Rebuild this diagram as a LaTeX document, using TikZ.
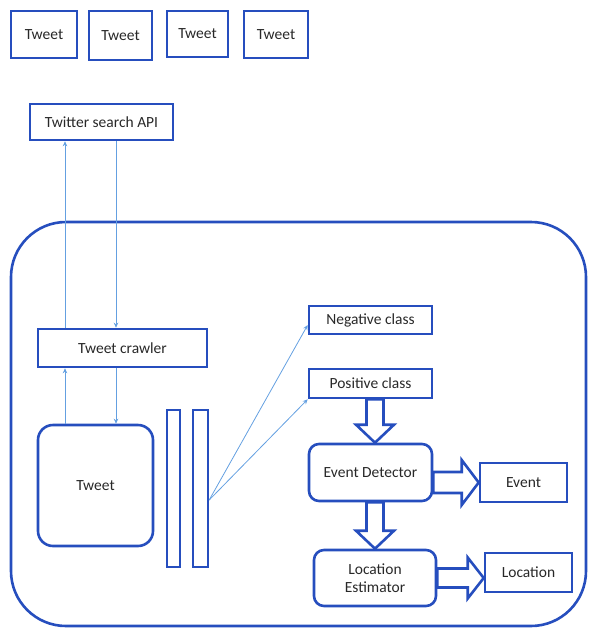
\documentclass[tikz,border=0pt]{standalone}
\usepackage{fontspec}
\setmainfont{Carlito}
\usetikzlibrary{arrows.meta}
\definecolor{boxblue}{RGB}{38,78,190}
\definecolor{lineblue}{RGB}{100,160,225}
\definecolor{txt}{RGB}{40,40,40}

\begin{document}
\begin{tikzpicture}[x=1pt,y=-1pt,
  box/.style={draw=boxblue,line width=2.6pt,inner sep=0pt,text=txt,
    font=\fontsize{15.5}{17.5}\selectfont,align=center},
  rbox/.style={box,rounded corners=10pt},
  bar/.style={draw=boxblue,line width=2.4pt,inner sep=0pt},
  thin/.style={lineblue,line width=0.8pt,-{Stealth[length=5pt,width=4.5pt]}},
  fat/.style={draw=boxblue,line width=2.6pt,fill=white}]
\useasboundingbox (0,0) rectangle (590,630);
\draw[boxblue,line width=2.6pt,rounded corners=55pt](11,222) rectangle (586,626);
\node[box,minimum width=66,minimum height=47](tw1) at (44,34.5){Tweet};
\node[box,minimum width=63,minimum height=49](tw2) at (120.5,35.5){Tweet};
\node[box,minimum width=61,minimum height=46](tw3) at (197.5,34){Tweet};
\node[box,minimum width=64,minimum height=47](tw4) at (276,34.5){Tweet};
\node[box,minimum width=143,minimum height=36](api) at (101.5,122){Twitter search API};
\node[box,minimum width=169,minimum height=38](crawl) at (122.5,348){Tweet crawler};
\node[box,rounded corners=15pt,minimum width=115,minimum height=121](tweet) at (95.5,485.5){Tweet};
\node[bar,minimum width=13,minimum height=157](barone) at (173.5,488.5){};
\node[bar,minimum width=15,minimum height=157](bartwo) at (200.5,488.5){};
\node[box,minimum width=123,minimum height=28](neg) at (370.5,320){Negative class};
\node[box,minimum width=123,minimum height=29](pos) at (370.5,383.5){Positive class};
\node[rbox,minimum width=123,minimum height=57](det) at (370.5,472.5){Event Detector};
\node[box,minimum width=87,minimum height=39](ev) at (523.5,482.5){Event};
\node[rbox,minimum width=122,minimum height=56](est) at (375,578){Location\\Estimator};
\node[box,minimum width=87,minimum height=39](loc) at (528.5,572.5){Location};
\draw[thin]([xshift=-57.5pt]crawl.north)--([xshift=-36.5pt]api.south);
\draw[thin]([xshift=14.5pt]api.south)--([xshift=-6.5pt]crawl.north);
\draw[thin]([xshift=-30.5pt]tweet.north)--([xshift=-57.5pt]crawl.south);
\draw[thin]([xshift=-6.5pt]crawl.south)--([xshift=20.5pt]tweet.north);
\draw[thin]([yshift=-11.5pt]bartwo.east)--([yshift=-5pt]neg.west);
\draw[thin]([yshift=-11.5pt]bartwo.east)--(pos.south west);
\coordinate(pa) at (pos.south -| est.north);
\coordinate(pb) at (det.north -| est.north);
\coordinate(da) at (det.south -| est.north);
\draw[fat]([xshift=-8.5pt]pa)--([xshift=-8.5pt,yshift=18pt]pb)
  --([xshift=-19pt,yshift=18pt]pb)--(pb)
  --([xshift=19pt,yshift=18pt]pb)--([xshift=8.5pt,yshift=18pt]pb)
  --([xshift=8.5pt]pa)--cycle;
\draw[fat]([xshift=-8.5pt]da)--([xshift=-8.5pt,yshift=18pt]est.north)
  --([xshift=-19pt,yshift=18pt]est.north)--(est.north)
  --([xshift=19pt,yshift=18pt]est.north)--([xshift=8.5pt,yshift=18pt]est.north)
  --([xshift=8.5pt]da)--cycle;
\coordinate(ea) at (det.east |- ev.west);
\draw[fat]([yshift=10.5pt]ea)--([xshift=-17pt,yshift=10.5pt]ev.west)
  --([xshift=-17pt,yshift=22.5pt]ev.west)--(ev.west)
  --([xshift=-17pt,yshift=-22.5pt]ev.west)--([xshift=-17pt,yshift=-10.5pt]ev.west)
  --([yshift=-10.5pt]ea)--cycle;
\coordinate(lb) at (loc.west |- est.east);
\draw[fat]([yshift=9.5pt]est.east)--([xshift=-16pt,yshift=9.5pt]lb)
  --([xshift=-16pt,yshift=20.5pt]lb)--(lb)
  --([xshift=-16pt,yshift=-20.5pt]lb)--([xshift=-16pt,yshift=-9.5pt]lb)
  --([yshift=-9.5pt]est.east)--cycle;
\end{tikzpicture}
\end{document}
